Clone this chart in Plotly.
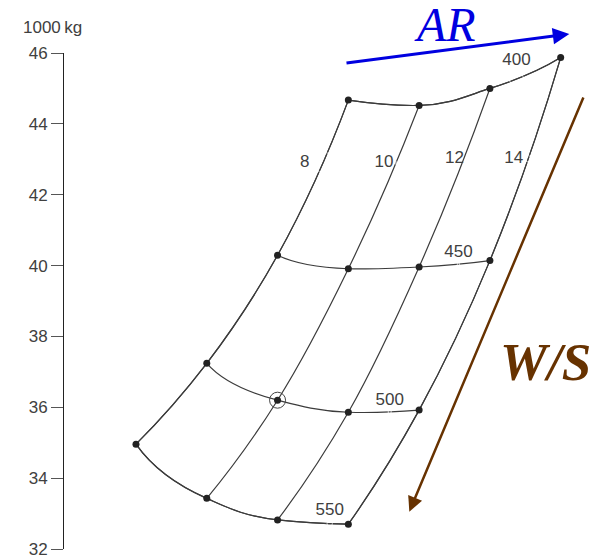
import plotly.graph_objects as go

# ---- data ----
AR = [8, 10, 12, 14]                 # aspect ratio (carpet a)
WS = [400, 450, 500, 550]            # wing loading (carpet b)
# take-off weight, 1000 kg : one row per W/S, one column per AR
WEIGHT = [
    [44.67, 44.52, 45.00, 45.87],
    [40.29, 39.91, 39.96, 40.14],
    [37.24, 36.20, 35.86, 35.92],
    [34.96, 33.43, 32.82, 32.70],
]
Y_TICKS = [32, 34, 36, 38, 40, 42, 44, 46]
SELECTED_AR = [10]
SELECTED_WS = [500]
AR_LABELS = ["8", "10", "12", "14"]
WS_LABELS = ["400", "450", "500", "550"]

# label anchor positions in carpet coordinates (+ offset from the line)
AR_LABEL_B = [419, 417, 419, 424]
AR_LABEL_OFFSET = [20.4, 2.4, 0, 6.4]
WS_LABEL_A = [12.67, 13.06, 13.23, 13.53]
WS_LABEL_OFFSET = [14, 2.4, 3.2, 5.3]

LINE = "#3c3c3c"
TXT = "#404040"
FONT = "Liberation Sans"

fig = go.Figure()

axis_style = dict(showticklabels="none", showgrid=True, gridcolor=LINE, gridwidth=1.2,
                  startline=True, endline=True, startlinecolor=LINE, endlinecolor=LINE,
                  startlinewidth=1.2, endlinewidth=1.2, minorgridcount=0, smoothing=1)
fig.add_trace(go.Carpet(
    a=AR, b=WS, y=WEIGHT, cheaterslope=1, carpet="c1",
    aaxis=dict(tickmode="array", tickvals=AR, **axis_style),
    baxis=dict(tickmode="array", tickvals=WS, **axis_style),
))

pa = [a for b in WS for a in AR]
pb = [b for b in WS for a in AR]
fig.add_trace(go.Scattercarpet(
    a=pa, b=pb, carpet="c1", mode="markers",
    marker=dict(size=7, color="#222222"), showlegend=False, hoverinfo="skip"))

fig.add_trace(go.Scattercarpet(
    a=SELECTED_AR, b=SELECTED_WS, carpet="c1", mode="markers",
    marker=dict(size=16, symbol="circle-open", color="#444444", line=dict(width=1)),
    showlegend=False, hoverinfo="skip"))

fig.add_trace(go.Scattercarpet(
    a=AR, b=AR_LABEL_B, carpet="c1", mode="markers+text", text=AR_LABELS,
    textposition="middle left", textfont=dict(family=FONT, size=17, color=TXT),
    marker=dict(size=AR_LABEL_OFFSET, color="rgba(0,0,0,0)"),
    showlegend=False, hoverinfo="skip"))

fig.add_trace(go.Scattercarpet(
    a=WS_LABEL_A, b=WS, carpet="c1", mode="markers+text", text=WS_LABELS,
    textposition="top center", textfont=dict(family=FONT, size=17, color=TXT),
    marker=dict(size=WS_LABEL_OFFSET, color="rgba(0,0,0,0)"),
    showlegend=False, hoverinfo="skip"))

BLUE = "#0000e0"
BROWN = "#673200"
annotations = [
    dict(x=0.9516, y=1.0383, ax=-224.3, ay=29.3, xref="paper", yref="paper",
         text="", showarrow=True, arrowhead=2, arrowsize=1.1, arrowwidth=3, arrowcolor=BLUE),
    dict(x=0.6503, y=0.0752, ax=174.7, ay=-415.7, xref="paper", yref="paper",
         text="", showarrow=True, arrowhead=2, arrowsize=1.2, arrowwidth=2.5, arrowcolor=BROWN),
    dict(x=0.7175, y=1.0575, xref="paper", yref="paper", xanchor="center", yanchor="middle",
         text="<i>AR</i>", showarrow=False,
         font=dict(family="Liberation Serif", size=48, color=BLUE)),
    dict(x=0.9077, y=0.377, xref="paper", yref="paper", xanchor="center", yanchor="middle",
         text="<b><i>W/S</i></b>", showarrow=False,
         font=dict(family="Liberation Serif", size=53, color=BROWN)),
    dict(x=-0.0815, y=1.052, xref="paper", yref="paper", xanchor="left", yanchor="middle",
         text="1000\u2009kg", showarrow=False, font=dict(family=FONT, size=17, color=TXT)),
]

fig.update_layout(
    width=603, height=556,
    margin=dict(l=56, r=16, t=45, b=15),
    paper_bgcolor="white", plot_bgcolor="white",
    showlegend=False,
    xaxis=dict(visible=False, range=[-0.1695, 1.0808], automargin=False),
    yaxis=dict(range=[32, 46], tickmode="array", tickvals=Y_TICKS, automargin=False,
               ticks="outside", ticklen=12, tickcolor="#555555", tickwidth=1,
               showline=True, linecolor="#222222", linewidth=1,
               showgrid=False, zeroline=False,
               tickfont=dict(family=FONT, size=17, color=TXT)),
    annotations=annotations,
)

fig.write_html("out.html")
